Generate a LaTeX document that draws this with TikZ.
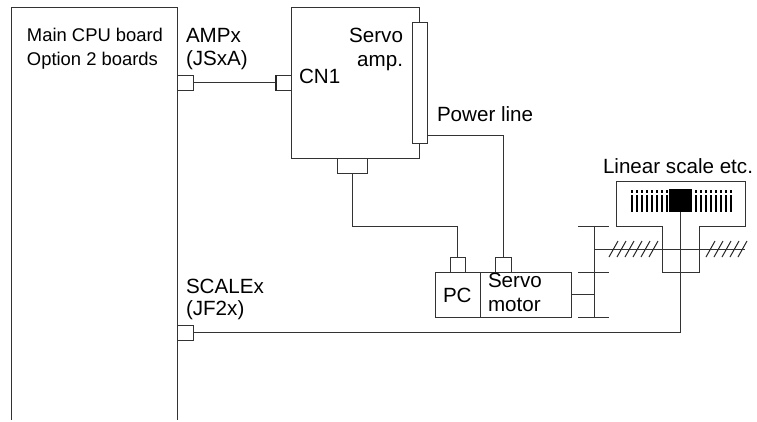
\documentclass[tikz,border=0pt]{standalone}
\usepackage{fontspec}
\setmainfont{Liberation Sans}
\tikzset{
  x=1pt,y=-1pt,
  ln/.style={draw=black!80,line width=1pt},
  box/.style={ln,fill=white,rectangle,inner sep=0pt,outer sep=0pt,anchor=north west},
  conn/.style={box,minimum width=15.5pt,minimum height=15.5pt},
  lab/.style={inner sep=0pt,outer sep=0pt,anchor=base west,font=\fontsize{20.6}{24}\selectfont},
  labr/.style={lab,anchor=base east},
  labs/.style={lab,font=\fontsize{18.4}{22}\selectfont}
}
\begin{document}
\begin{tikzpicture}
\useasboundingbox[fill=white] (0,0) rectangle (757,421);
% main board
\coordinate (mainbl) at (11,420);
\coordinate (maintl) at (11,7);
\coordinate (maintr) at (177.5,7);
\coordinate (mainbr) at (177.5,420);
\draw[ln] (mainbl) -- (maintl) -- (maintr) -- (mainbr);
\node[labs] (t1) at (27,41.7) {Main CPU board};
\node[labs] (t2) at (27,65.7) {Option 2 boards};
\node[lab] (t3) at (186,42) {AMPx};
\node[lab] (t4) at (186,65) {(JSxA)};
\node[lab] (t5) at (186,293) {SCALEx};
\node[lab] (t6) at (186,315) {(JF2x)};
% servo amp
\node[box,minimum width=128.5pt,minimum height=151pt] (amp) at (291,7) {};
\node[box,minimum width=14.5pt,minimum height=121pt] (strip) at (412.5,22) {};
\node[conn] (ampc) at (177.5,75) {};
\node[conn] (cn) at (275.5,75) {};
\node[box,minimum width=30pt,minimum height=15pt] (pcc) at (337,158) {};
\node[labr] (t7) at (403,42) {Servo};
\node[labr] (t8) at (403,66) {amp.};
\node[lab] (t9) at (299,83.5) {CN1};
\node[lab] (t10) at (437,121) {Power line};
% motor
\node[box,minimum width=45pt,minimum height=45pt] (pc) at (435,272) {};
\node[box,minimum width=91pt,minimum height=45pt] (motor) at (480,272) {};
\node[conn,minimum height=15pt] (pcu) at (450,257) {};
\node[conn,minimum height=15pt] (mu) at (495.5,257) {};
\node[lab] (t11) at (443,302.7) {PC};
\node[lab] (t12) at (488,287.7) {Servo};
\node[lab] (t13) at (488,311.7) {motor};
\node[conn] (scalec) at (177.5,325) {};
% connectors
\draw[ln] (ampc.east) -- (cn.west);
\draw[line width=2pt,black!85] (cn.north west) -- (cn.south west);
\coordinate (pw) at (427,135);
\draw[ln] (pw) -| (mu.north);
\draw[ln] (pcc.south) |- (457.75,226) -- (pcu.north);
% gears
\coordinate (shaftm) at (571,294.5);
\coordinate (gt) at (594,226);
\coordinate (gb) at (594,317);
\coordinate (gm) at (594,294.5);
\draw[ln] (shaftm) -- (gm);
\draw[ln] (gt) -- (gb);
\foreach \yy in {226,272,317} \draw[ln] (578,\yy) -- (609,\yy);
\coordinate (rodl) at (594,249);
\coordinate (rodr) at (745,249);
\draw[ln] (rodl) -- (rodr);
\foreach \xx in {609,617,625,633,641,649,706,714,722,730,738}
  \draw[line width=1pt,black!85] (\xx,257) -- (\xx+9,241);
% linear scale
\coordinate (s1) at (616.5,181);
\coordinate (s2) at (745,181);
\coordinate (s3) at (745,226);
\coordinate (s4) at (699.5,226);
\coordinate (s5) at (699.5,272);
\coordinate (s6) at (662,272);
\coordinate (s7) at (662,226);
\coordinate (s8) at (616.5,226);
\draw[ln] (s1) -- (s2) -- (s3) -- (s4) -- (s5) -- (s6) -- (s7) -- (s8) -- cycle;
\foreach \xx in {631,636,641,646,651,656,661,666,695,700,705,710,715,720,725,730}{
  \fill[black] (\xx,190) rectangle (\xx+1.8,193);
  \fill[black] (\xx,195.3) rectangle (\xx+1.8,212);
}
\node[fill=black,rectangle,inner sep=0pt,outer sep=0pt,anchor=north west,minimum width=23.5pt,minimum height=23pt] (head) at (668.8,189) {};
\coordinate (corner) at (head.south |- scalec.east);
\draw[ln] (head.south) -- (corner) -- (scalec.east);
\node[lab] (t14) at (603,173) {Linear scale etc.};
\end{tikzpicture}
\end{document}
